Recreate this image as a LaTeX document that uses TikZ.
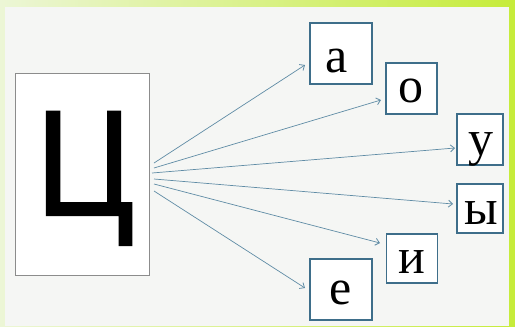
\documentclass[tikz,border=0pt]{standalone}
\usepackage{fontspec}
\setmainfont{Liberation Serif}
\newfontfamily\bigsans[FakeBold=1.6]{Liberation Sans}
\usetikzlibrary{arrows.meta}
\definecolor{panel}{RGB}{245,246,244}
\definecolor{lboxc}{RGB}{62,110,138}
\definecolor{arrc}{RGB}{95,140,165}
\definecolor{bgl}{RGB}{236,246,214}
\definecolor{bgr}{RGB}{198,236,58}
\tikzset{
  vbox/.style={draw=lboxc, line width=1.3pt, fill=white, inner sep=0pt},
  vlet/.style={anchor=base, inner sep=0pt, font=\fontsize{50}{50}\selectfont},
  conn/.style={draw=arrc, line width=0.7pt, -{Straight Barb[length=4pt,width=7pt,line width=0.8pt]}}
}
\begin{document}
\begin{tikzpicture}[x=1pt,y=-1pt]
\useasboundingbox (0,0) rectangle (515,327);
\shade[left color=bgl, right color=bgr] (0,0) rectangle (515,327);
\fill[panel] (5,7) rectangle (509,326);
% big box
\node[draw=gray!90, line width=1pt, fill=white, minimum width=134pt, minimum height=202pt, inner sep=0pt] (big) at (82,174) {};
\node[anchor=base, inner sep=0pt, font=\bigsans\fontsize{150}{150}\selectfont, xscale=0.88] (tc) at (85,215) {Ц};
% letter boxes
\node[vbox, minimum width=62pt, minimum height=61pt] (a) at (341,53.5) {};
\node[vbox, minimum width=51pt, minimum height=51pt] (o) at (411.5,88.5) {};
\node[vbox, minimum width=46pt, minimum height=51pt] (u) at (480,139.5) {};
\node[vbox, minimum width=46pt, minimum height=49pt] (y) at (480,208.5) {};
\node[vbox, minimum width=51pt, minimum height=49pt] (i) at (412,258.5) {};
\node[vbox, minimum width=62pt, minimum height=61pt] (e) at (341,289.5) {};
\node[vlet] (ta) at (337,72) {а};
\node[vlet] (to) at (411,102) {о};
\node[vlet] (tu) at (481,155) {у};
\node[vlet] (ty) at (481,224) {ы};
\node[vlet] (ti) at (412,273) {и};
\node[vlet] (te) at (341,304) {е};
% connectors
\coordinate (sa) at (154,163);
\coordinate (so) at (154,168);
\coordinate (su) at (152,173);
\coordinate (sy) at (154,179);
\coordinate (si) at (154,184);
\coordinate (se) at (154,191);
\coordinate (ea) at (305,65);
\coordinate (eo) at (381,100);
\coordinate (eu) at (455,148);
\coordinate (ey) at (453,204);
\coordinate (ei) at (380,243);
\coordinate (ee) at (305,288);
\draw[conn] (sa) -- (ea);
\draw[conn] (so) -- (eo);
\draw[conn] (su) -- (eu);
\draw[conn] (sy) -- (ey);
\draw[conn] (si) -- (ei);
\draw[conn] (se) -- (ee);
\end{tikzpicture}
\end{document}
